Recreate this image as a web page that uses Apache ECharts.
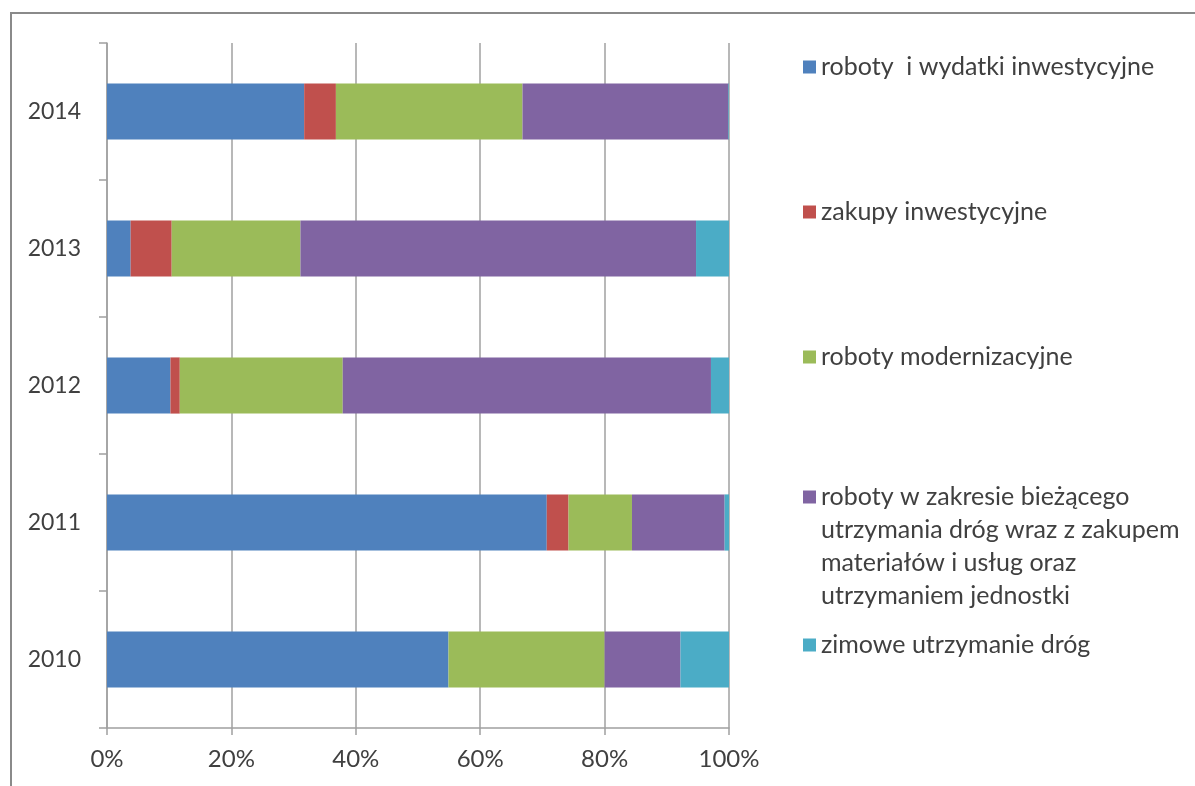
<!DOCTYPE html>
<html>
<head>
<meta charset="utf-8">
<script src="https://cdn.jsdelivr.net/npm/echarts@6/dist/echarts.min.js"></script>
<style>html,body{margin:0;padding:0;background:#fff}#c{width:1195px;height:786px}</style>
</head>
<body>
<div id="c"></div>
<script>
const years = ['2010', '2011', '2012', '2013', '2014'];
const xTicks = ['0%', '20%', '40%', '60%', '80%', '100%'];
const seriesNames = [
  'roboty  i wydatki inwestycyjne',
  'zakupy inwestycyjne',
  'roboty modernizacyjne',
  'roboty w zakresie bieżącego\nutrzymania dróg wraz z zakupem\nmateriałów i usług oraz\nutrzymaniem jednostki',
  'zimowe utrzymanie dróg'
];
const robotyInwest = [54.9, 70.7, 10.2, 3.8, 31.7];
const zakupyInwest = [0.0, 3.5, 1.5, 6.6, 5.1];
const robotyModern = [25.1, 10.2, 26.2, 20.7, 30.0];
const biezace = [12.2, 14.9, 59.2, 63.6, 33.1];
const zimowe = [7.8, 0.7, 2.9, 5.3, 0.1];

const values = [robotyInwest, zakupyInwest, robotyModern, biezace, zimowe];
const colors = ['#4F81BD', '#C0504D', '#9BBB59', '#8064A2', '#4BACC6'];
const FONT = 'Lato';

const chart = echarts.init(document.getElementById('c'), null, {renderer: 'canvas'});

const legendCenters = [67, 212, 357, 497, 645];
const LH = 33;
const legends = seriesNames.map((n, i) => {
  const lines = n.split('\n').length;
  // pad with blank lines before so the first line sits centred on the icon
  const blanks = lines - 1;
  const total = (lines + blanks) * LH;
  return {
    data: [n],
    left: 803,
    top: legendCenters[i] - total / 2,
    padding: 0,
    icon: 'rect',
    itemWidth: 13,
    itemHeight: 13,
    itemGap: 5,
    selectedMode: false,
    formatter: name => ' \n'.repeat(blanks) + name,
    textStyle: {fontFamily: FONT, fontSize: 25, color: '#404040', lineHeight: LH}
  };
});

chart.setOption({
  animation: false,
  backgroundColor: '#fff',
  color: colors,
  graphic: [
    {type: 'line', shape: {x1: 10, y1: 13, x2: 1195, y2: 13}, style: {stroke: '#8a8a8a', lineWidth: 2}},
    {type: 'line', shape: {x1: 11, y1: 13, x2: 11, y2: 786}, style: {stroke: '#8a8a8a', lineWidth: 2}}
  ],
  legend: legends,
  grid: {left: 107, right: 466, top: 43, bottom: 58, containLabel: false},
  xAxis: {
    type: 'value', min: 0, max: 100, interval: 20,
    axisLine: {show: true, lineStyle: {color: '#a0a0a0', width: 1.5}},
    axisTick: {show: true, length: 7, lineStyle: {color: '#a0a0a0', width: 1.5}},
    splitLine: {show: true, lineStyle: {color: '#a0a0a0', width: 1.5}},
    axisLabel: {
      margin: 19, fontFamily: FONT, fontSize: 24, color: '#404040',
      formatter: v => xTicks[Math.round(v / 20)]
    }
  },
  yAxis: {
    type: 'category', data: years,
    axisLine: {show: true, lineStyle: {color: '#a0a0a0', width: 1.5}},
    axisTick: {show: true, length: 8, alignWithLabel: false, lineStyle: {color: '#a0a0a0', width: 1.5}},
    axisLabel: {margin: 26, fontFamily: FONT, fontSize: 23, color: '#404040'}
  },
  series: seriesNames.map((n, i) => ({
    name: n, type: 'bar', stack: 'total', barWidth: '41%',
    data: values[i],
    itemStyle: {color: colors[i]}
  }))
});
</script>
</body>
</html>
